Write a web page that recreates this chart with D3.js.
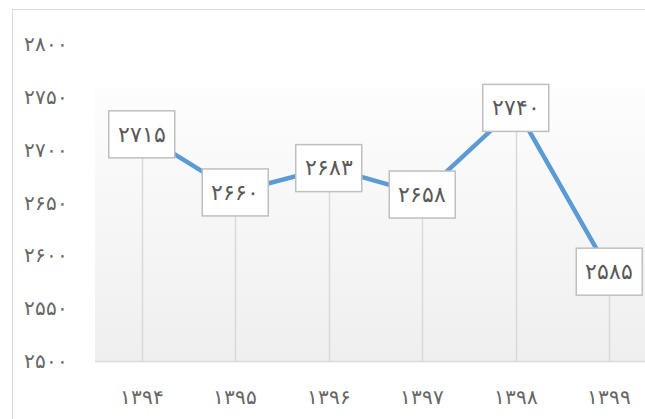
<!DOCTYPE html>
<html>
<head>
<meta charset="utf-8">
<script src="https://cdn.jsdelivr.net/npm/d3@7"></script>
<style>
  body { margin: 0; background: #fff; }
  svg { display: block; font-family: "DejaVu Sans ExtraLight", "DejaVu Sans", sans-serif; font-weight: 200; }
</style>
</head>
<body>
<svg id="chart" width="645" height="419"></svg>
<script>
// data
var years = ["1394", "1395", "1396", "1397", "1398", "1399"];
var values = [2715, 2660, 2683, 2658, 2740, 2585];
var yTicks = [2500, 2550, 2600, 2650, 2700, 2750, 2800];

var faDigits = "۰۱۲۳۴۵۶۷۸۹";
function toFa(s) {
  return String(s).replace(/[0-9]/g, function(c) { return faDigits[+c]; });
}

var svg = d3.select("#chart");

// outer chart border
svg.append("rect")
   .attr("x", 12.5).attr("y", 9.5)
   .attr("width", 700).attr("height", 450)
   .attr("fill", "none")
   .attr("stroke", "#d9d9d9");

var plot = {left: 95, right: 656, top: 88, bottom: 361};

var x = d3.scaleBand()
          .domain(years)
          .range([plot.left, plot.right]);

var y = d3.scaleLinear()
          .domain([2500, 2800])
          .range([plot.bottom, 44]);

// plot area gradient
var grad = svg.append("defs").append("linearGradient")
              .attr("id", "bg").attr("x1", 0).attr("y1", 0).attr("x2", 0).attr("y2", 1);
grad.append("stop").attr("offset", "0%").attr("stop-color", "#fdfdfd");
grad.append("stop").attr("offset", "100%").attr("stop-color", "#efefef");

svg.append("rect")
   .attr("x", plot.left).attr("y", plot.top)
   .attr("width", plot.right - plot.left).attr("height", plot.bottom - plot.top)
   .attr("fill", "url(#bg)");

// y axis labels
svg.append("g")
   .selectAll("text")
   .data(yTicks)
   .join("text")
   .attr("x", 68)
   .attr("y", function(d) { return y(d); })
   .attr("dy", "0.35em")
   .attr("text-anchor", "end")
   .attr("font-size", 20)
   .attr("fill", "#666")
   .text(function(d) { return toFa(d); });

// x axis
svg.append("line")
   .attr("x1", plot.left).attr("x2", plot.right)
   .attr("y1", plot.bottom + 0.5).attr("y2", plot.bottom + 0.5)
   .attr("stroke", "#d9d9d9").attr("stroke-width", 1.5);

svg.append("g")
   .selectAll("text")
   .data(years)
   .join("text")
   .attr("x", function(d) { return x(d) + x.bandwidth() / 2; })
   .attr("y", 397)
   .attr("dy", "0.35em")
   .attr("text-anchor", "middle")
   .attr("font-size", 20)
   .attr("fill", "#666")
   .text(function(d) { return toFa(d); });

var pts = years.map(function(d, i) {
  return {year: d, value: values[i], cx: x(d) + x.bandwidth() / 2, cy: y(values[i])};
});

// drop lines
svg.append("g")
   .selectAll("line")
   .data(pts)
   .join("line")
   .attr("x1", function(d) { return Math.round(d.cx) + 0.5; })
   .attr("x2", function(d) { return Math.round(d.cx) + 0.5; })
   .attr("y1", function(d) { return d.cy; })
   .attr("y2", plot.bottom)
   .attr("stroke", "#d9d9d9").attr("stroke-width", 1.5);

// series line
var line = d3.line()
             .x(function(d) { return d.cx; })
             .y(function(d) { return d.cy; });

svg.append("path")
   .attr("d", line(pts))
   .attr("fill", "none")
   .attr("stroke", "#5b9bd5")
   .attr("stroke-width", 4.5)
   .attr("stroke-linejoin", "round");

// data labels
var labels = svg.append("g")
                .selectAll("g")
                .data(pts)
                .join("g")
                .attr("transform", function(d) { return "translate(" + d.cx + "," + d.cy + ")"; });

labels.append("rect")
      .attr("x", -33).attr("y", -23)
      .attr("width", 66).attr("height", 47)
      .attr("fill", "#fff")
      .attr("stroke", "#bfbfbf")
      .attr("stroke-width", 1.5);

labels.append("text")
      .attr("text-anchor", "middle")
      .attr("dy", "0.35em")
      .attr("font-size", 22)
      .attr("fill", "#595959")
      .text(function(d) { return toFa(d.value); });
</script>
</body>
</html>
